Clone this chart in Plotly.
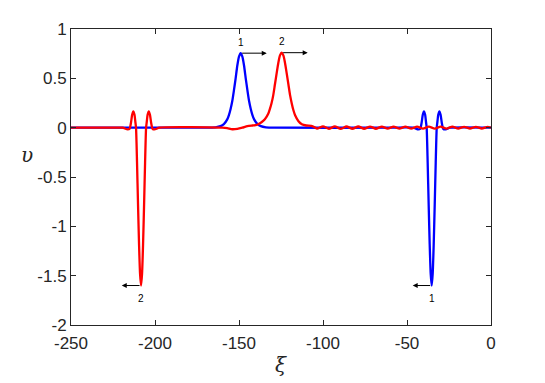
import plotly.graph_objects as go

# blue solution (soliton 1)
xi_blue = [-250, -170, -164, -161, -159, -157, -156, -155, -154, -153, -152, -151,
           -150, -149, -148, -147, -146, -145, -144, -143, -142, -141, -139, -137,
           -134, -129, -60, -46.3, -43.3, -42.1, -41.3, -40.6, -39.9, -39.2, -38.7,
           -38.3, -37.7, -37.1, -36.5, -35.9, -35.3, -34.7, -34.1, -33.5, -32.9,
           -32.3, -31.9, -31.4, -30.7, -30.0, -29.3, -28.5, -27.3, -24.3, 0]
v_blue = [0, 0, 0.004, 0.015, 0.036, 0.084, 0.128, 0.19, 0.27, 0.38, 0.50, 0.63,
          0.72, 0.755, 0.72, 0.63, 0.50, 0.38, 0.27, 0.19, 0.128, 0.084, 0.036, 0.015,
          0.004, 0, 0, 0, -0.018, -0.01, 0.05, 0.13, 0.165, 0.13, 0.06,
          0, -0.35, -0.78, -1.18, -1.48, -1.6, -1.48, -1.18, -0.78, -0.35,
          0, 0.06, 0.13, 0.165, 0.13, 0.05, -0.01, -0.018, 0, 0]

# red solution (soliton 2)
xi_red = [-250, -222, -219.3, -216.3, -215.1, -214.3, -213.6, -212.9, -212.2, -211.7,
          -211.3, -210.7, -210.1, -209.5, -208.9, -208.3, -207.7, -207.1, -206.5,
          -205.9, -205.3, -204.9, -204.4, -203.7, -203.0, -202.3, -201.5, -200.3,
          -197.3, -160, -157, -154, -151, -148, -145, -142, -140, -138.6, -136.6,
          -134.6, -132.6, -131.6, -130.6, -129.6, -128.6, -127.6, -126.6, -125.6,
          -124.6, -123.6, -122.6, -121.6, -120.6, -119.6, -118.6, -117.6, -116.6,
          -114.6, -112.6, -110, -107, -105, -103.5, -100, -96.5, -93, -89.5, -86,
          -82.5, -79, -75.5, -72, -68.5, -65, -61.5, -58, -54.5, -51, -47.5, -44,
          -40.5, -37, -33.5, -30, -26.5, -23, -19.5, -16, -12.5, -9, -5.5, -2, 0]
v_red = [0, 0, 0, -0.018, -0.01, 0.05, 0.13, 0.165, 0.13, 0.06,
         0, -0.35, -0.78, -1.18, -1.48, -1.6, -1.48, -1.18, -0.78,
         -0.35, 0, 0.06, 0.13, 0.165, 0.13, 0.05, -0.01, -0.018,
         0, 0, -0.005, -0.016, -0.012, 0.0, 0.015, 0.022, 0.026, 0.035, 0.055,
         0.085, 0.14, 0.19, 0.25, 0.33, 0.44, 0.55, 0.656, 0.732,
         0.76, 0.732, 0.656, 0.55, 0.44, 0.33, 0.246, 0.177, 0.126,
         0.065, 0.035, 0.022, 0.018, 0.005, -0.01, 0.014, -0.012, 0.013, -0.012, 0.012,
         -0.011, 0.012, -0.011, 0.011, -0.011, 0.011, -0.01, 0.011, -0.01, 0.01, -0.01, 0.01,
         -0.01, 0.01, -0.01, 0.01, -0.009, 0.01, -0.009, 0.009, -0.009, 0.009, -0.009, 0.008, 0]

x_ticks = [-250, -200, -150, -100, -50, 0]
x_labels = ["-250", "-200", "-150", "-100", "-50", "0"]
y_ticks = [-2, -1.5, -1, -0.5, 0, 0.5, 1]
y_labels = ["-2", "-1.5", "-1", "-0.5", "0", "0.5", "1"]

axis_color = "#262626"
font = "Liberation Sans, Arial, sans-serif"

fig = go.Figure()

fig.add_trace(go.Scatter(x=xi_blue, y=v_blue, mode="lines",
                         line=dict(color="#0000ff", width=2.3, shape="spline", smoothing=0.6)))
fig.add_trace(go.Scatter(x=xi_red, y=v_red, mode="lines",
                         line=dict(color="#ff0000", width=2.3, shape="spline", smoothing=0.6)))


def arrow(x0, y0, dx, label, label_dy):
    fig.add_annotation(x=x0 + dx, y=y0, ax=x0, ay=y0, axref="x", ayref="y",
                       xref="x", yref="y", text="", showarrow=True,
                       arrowhead=2, arrowsize=1, arrowwidth=1, arrowcolor="black",
                       standoff=0, startstandoff=0)
    fig.add_annotation(x=x0, y=y0, xref="x", yref="y", text=label, showarrow=False,
                       yshift=label_dy, font=dict(family=font, size=10, color="black"))


# arrows start at the peaks / troughs of each series
ib = v_blue.index(max(v_blue))
ir = v_red.index(max(v_red))
arrow(xi_blue[ib], v_blue[ib], 15.5, "1", 11)
arrow(xi_red[ir], v_red[ir], 15.5, "2", 11)
jb = v_blue.index(min(v_blue))
jr = v_red.index(min(v_red))
arrow(xi_blue[jb], v_blue[jb], -11.3, "1", -13)
arrow(xi_red[jr], v_red[jr], -11.5, "2", -13)

fig.add_annotation(x=0.5, y=-0.135, xref="paper", yref="paper", text="<i>ξ</i>", showarrow=False,
                   xanchor="center", yanchor="middle",
                   font=dict(family="DejaVu Serif", size=20, color=axis_color))
fig.add_annotation(x=-0.105, y=0.575, xref="paper", yref="paper", text="<i>υ</i>", showarrow=False,
                   xanchor="center", yanchor="middle",
                   font=dict(family="DejaVu Serif", size=20, color=axis_color))

axis_common = dict(showgrid=False, zeroline=False, showline=True, linecolor=axis_color,
                   linewidth=1, mirror="ticks", ticks="inside", ticklen=5,
                   tickcolor=axis_color, tickfont=dict(family=font, size=17, color=axis_color))

fig.update_xaxes(range=[-250, 0], tickvals=x_ticks, ticktext=x_labels,
                 ticklabelstandoff=3, **axis_common)
fig.update_yaxes(range=[-2, 1], tickvals=y_ticks, ticktext=y_labels, **axis_common)

# the page body adds an 8px offset, so the figure is a little smaller than the window
fig.update_layout(
    width=537, height=375,
    margin=dict(l=63, r=54, t=21, b=58),
    plot_bgcolor="white", paper_bgcolor="white",
    showlegend=False,
)

fig.write_html("out.html")
